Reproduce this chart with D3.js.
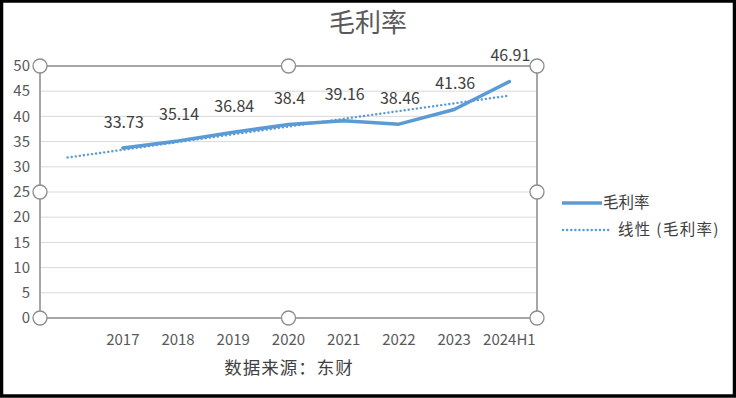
<!DOCTYPE html>
<html>
<head>
<meta charset="utf-8">
<script src="https://cdn.jsdelivr.net/npm/d3@7"></script>
<style>
  body { margin: 0; background: #fff; }
  svg { display: block; font-family: "Microsoft YaHei", "Noto Sans CJK SC", sans-serif; }
</style>
</head>
<body>
<div id="chart"></div>
<script>
// Categories (first slot is an empty category, as in the original sheet)
const categories = ['', '2017', '2018', '2019', '2020', '2021', '2022', '2023', '2024H1']
const margins = [null, 33.73, 35.14, 36.84, 38.4, 39.16, 38.46, 41.36, 46.91]
const yTicks = [0, 5, 10, 15, 20, 25, 30, 35, 40, 45, 50]

const width = 736, height = 398
const plot = { left: 40, right: 537, top: 66, bottom: 318 }

const svg = d3.select('#chart').append('svg')
  .attr('width', width).attr('height', height)

svg.append('rect').attr('width', width).attr('height', height).attr('fill', '#fff')

const x = d3.scaleBand().domain(categories).range([plot.left, plot.right]).padding(0)
const xc = c => x(c) + x.bandwidth() / 2
const y = d3.scaleLinear().domain([0, 50]).range([plot.bottom, plot.top])

// gridlines
svg.append('g').selectAll('line')
  .data(yTicks.slice(1, -1))
  .join('line')
  .attr('x1', plot.left).attr('x2', plot.right)
  .attr('y1', d => y(d)).attr('y2', d => y(d))
  .attr('stroke', '#d9d9d9').attr('stroke-width', 1)

// y labels
svg.append('g').selectAll('text')
  .data(yTicks)
  .join('text')
  .attr('x', 30).attr('y', d => y(d))
  .attr('dy', '0.35em')
  .attr('text-anchor', 'end')
  .attr('font-size', 15)
  .attr('fill', '#595959')
  .text(d => d)

// x labels
svg.append('g').selectAll('text')
  .data(categories.filter(c => c))
  .join('text')
  .attr('x', d => xc(d)).attr('y', 340)
  .attr('dy', '0.35em')
  .attr('text-anchor', 'middle')
  .attr('font-size', 15)
  .attr('fill', '#595959')
  .text(d => d)

// linear trendline (least squares on category index, like Excel)
const pts = margins.map((v, i) => ({ i: i + 1, v })).filter(d => d.v !== null)
const mx = d3.mean(pts, d => d.i), my = d3.mean(pts, d => d.v)
const slope = d3.sum(pts, d => (d.i - mx) * (d.v - my)) / d3.sum(pts, d => (d.i - mx) ** 2)
const icpt = my - slope * mx
const trend = categories.map((c, i) => ({ c, v: icpt + slope * (i + 1) }))

const line = d3.line().x(d => xc(d.c)).y(d => y(d.v))

svg.append('path')
  .datum(trend)
  .attr('d', line)
  .attr('fill', 'none')
  .attr('stroke', '#5b9bd5')
  .attr('stroke-width', 2.4)
  .attr('stroke-dasharray', '0.1 4')
  .attr('stroke-linecap', 'round')

const series = categories.map((c, i) => ({ c, v: margins[i] })).filter(d => d.v !== null)

svg.append('path')
  .datum(series)
  .attr('d', line)
  .attr('fill', 'none')
  .attr('stroke', '#5b9bd5')
  .attr('stroke-width', 3.5)
  .attr('stroke-linejoin', 'round')
  .attr('stroke-linecap', 'round')

// data labels
svg.append('g').selectAll('text')
  .data(series)
  .join('text')
  .attr('x', d => xc(d.c) + 1).attr('y', d => y(d.v) - 26)
  .attr('dy', '0.35em')
  .attr('text-anchor', 'middle')
  .attr('font-size', 16)
  .attr('fill', '#404040')
  .text(d => d.v)

// selection frame round plot area
svg.append('rect')
  .attr('x', plot.left).attr('y', plot.top)
  .attr('width', plot.right - plot.left).attr('height', plot.bottom - plot.top)
  .attr('fill', 'none').attr('stroke', '#a6a6a6').attr('stroke-width', 2)

const midX = (plot.left + plot.right) / 2, midY = (plot.top + plot.bottom) / 2
const handles = [
  [plot.left, plot.top], [midX, plot.top], [plot.right, plot.top],
  [plot.left, midY], [plot.right, midY],
  [plot.left, plot.bottom], [midX, plot.bottom], [plot.right, plot.bottom]
]
svg.append('g').selectAll('circle')
  .data(handles)
  .join('circle')
  .attr('cx', d => d[0]).attr('cy', d => d[1]).attr('r', 7)
  .attr('fill', '#fff').attr('stroke', '#8c8c8c').attr('stroke-width', 1.3)

// title
svg.append('text')
  .attr('x', 368).attr('y', 23).attr('dy', '0.35em')
  .attr('text-anchor', 'middle')
  .attr('font-size', 26)
  .attr('fill', '#595959')
  .text('毛利率')

// legend
const lg = svg.append('g')
lg.append('line').attr('x1', 562).attr('x2', 602).attr('y1', 203).attr('y2', 203)
  .attr('stroke', '#5b9bd5').attr('stroke-width', 3.5)
lg.append('text').attr('x', 603).attr('y', 203).attr('dy', '0.35em')
  .attr('font-size', 15.5).attr('fill', '#404040').text('毛利率')
lg.append('line').attr('x1', 563).attr('x2', 610).attr('y1', 230).attr('y2', 230)
  .attr('stroke', '#5b9bd5').attr('stroke-width', 2.4)
  .attr('stroke-dasharray', '0.1 4').attr('stroke-linecap', 'round')
lg.append('text').attr('x', 618).attr('y', 230).attr('dy', '0.35em')
  .attr('font-size', 15.5).attr('letter-spacing', 1.3)
  .attr('fill', '#404040').text('线性 (毛利率)')

// source note
svg.append('text')
  .attr('x', 289).attr('y', 368).attr('dy', '0.35em')
  .attr('text-anchor', 'middle')
  .attr('font-size', 17.5)
  .attr('letter-spacing', 1)
  .attr('fill', '#404040')
  .text('数据来源：东财')

// outer black frame
svg.append('rect').attr('x', 1.5).attr('y', 1).attr('width', width - 3).attr('height', height - 3)
  .attr('fill', 'none').attr('stroke', '#000').attr('stroke-width', 3.5)
</script>
</body>
</html>
